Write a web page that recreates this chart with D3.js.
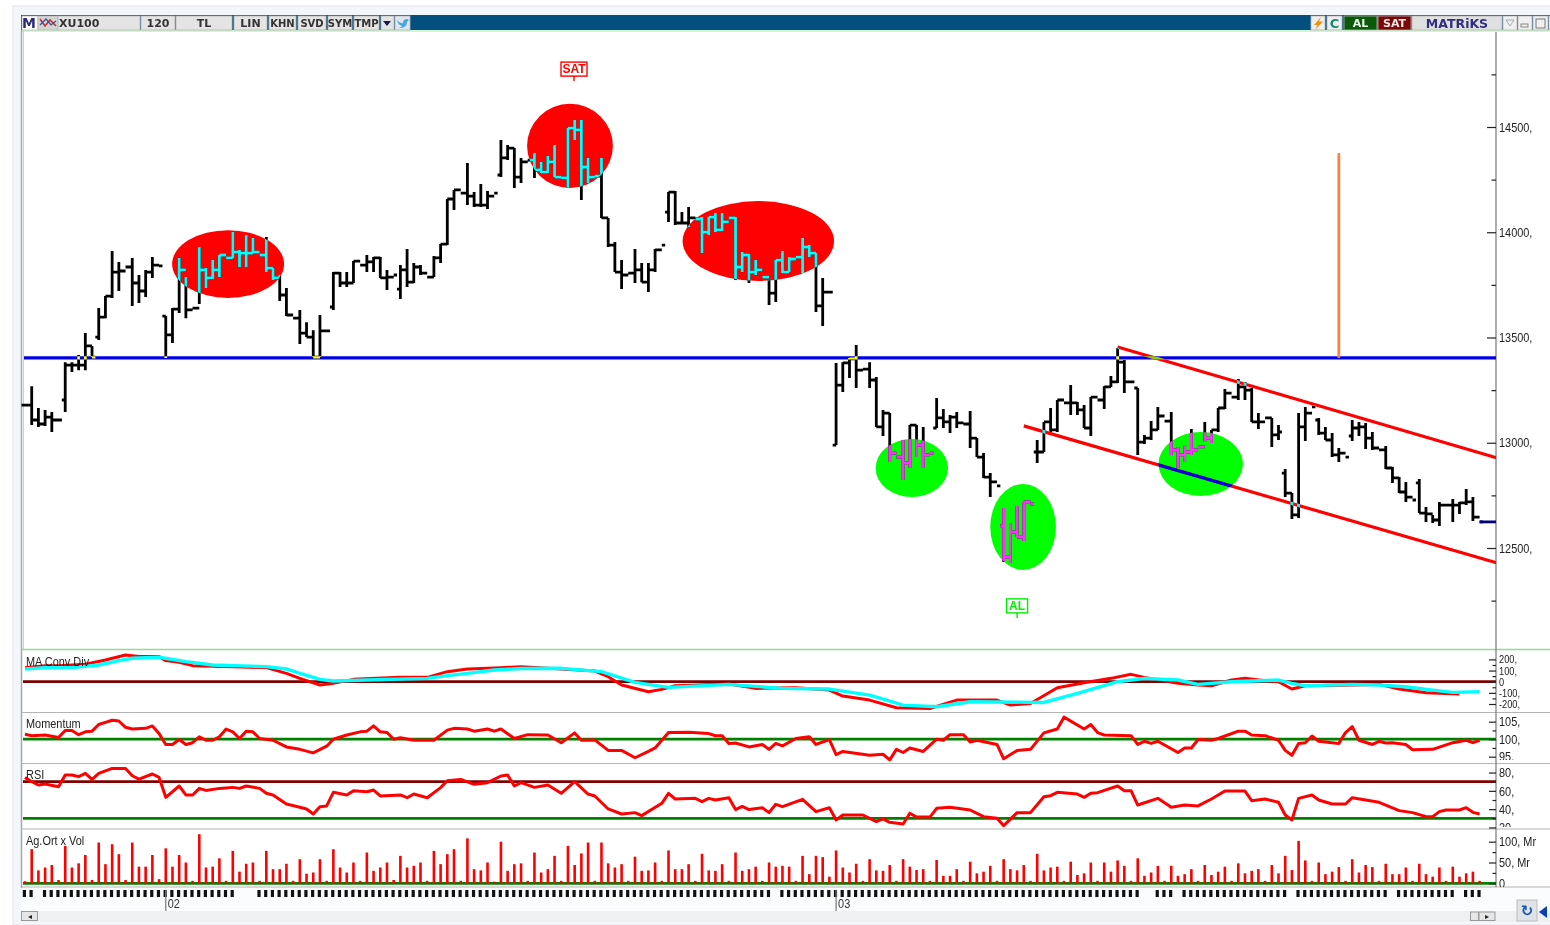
<!DOCTYPE html>
<html>
<head>
<meta charset="utf-8">
<script src="https://cdn.jsdelivr.net/npm/d3@7"></script>
<style>
    html, body { margin: 0; padding: 0; background: #fff; overflow: hidden; }
    svg { display: block; filter: blur(0.45px); }
    text { font-family: "Liberation Sans", sans-serif; }
    .tb text { font-family: "DejaVu Sans", sans-serif; font-weight: bold; font-size: 11px; }
</style>
</head>
<body>
<div id="chart"></div>
<script>
/* * * * * * * * * * * * * *
*     XU100 120 min bars    *
* * * * * * * * * * * * * */

const n = null;

// bar highs, one per time slot, null = single print
const highs = [n,13269,13165,13156,13146,n,13383,13383,13417,13521,13460,13640,13697,13911,13859,n,13878,13797,13821,13882,n,
13602,13640,13878,13787,n,13930,13830,13868,13892,n,14001,13916,13987,13973,n,13977,13830,13797,13735,n,13631,13573,13535,13607,n,
13811,13811,13811,13863,n,13892,13882,13882,13821,n,13844,13920,13854,13844,n,13887,13944,14158,14201,n,14329,14191,14229,14196,n,
14438,14414,14400,14353,n,14376,14334,14362,14414,n,14495,14533,14533,14353,n,14353,14068,13954,13868,n,13920,13854,13854,13920,n,
14191,14196,14096,14120,n,14072,14072,14091,14091,n,14072,13906,13897,13868,n,13773,13868,13911,13882,n,13973,13939,13901,13783,n,
13379,13383,13403,13464,n,13383,13312,13156,13141,n,13013,13084,13084,13075,n,13213,13160,13132,13146,n,13151,13022,12951,12856,n,
12690,12619,12700,12719,n,13013,13099,13165,13203,n,13274,13194,13179,13217,n,13269,13317,13450,13393,n,13260,13037,13103,13170,n,
13146,12980,12989,13065,n,13099,13061,13165,13255,n,13303,13289,13260,13141,n,13118,13084,12875,12761,13141,13170,n,
13118,13075,13046,12975,n,13108,13099,13094,13051,n,12984,12885,12837,12814,n,12828,12695,12657,12719,n,12733,12719,12780,12742,n];

// bar lows
const lows = [n,13084,13075,13079,13051,n,13146,13336,13345,13345,13407,13488,13592,13688,13721,n,13650,13664,13692,13783,n,
13403,13474,13616,13592,n,13659,13735,13778,13787,n,13878,13835,13835,13901,n,13811,13773,13673,13602,n,13469,13502,13407,13407,n,
13631,13740,13740,13759,n,13811,13811,13783,13726,n,13683,13740,13759,13797,n,13787,13854,13939,14106,n,14129,14120,14120,14110,n,
14262,14343,14210,14234,n,14258,14281,14281,14262,n,14210,14438,14153,14234,n,14068,13930,13811,13730,n,13759,13763,13716,13811,n,
14049,14034,14044,14025,n,13901,13987,14001,14006,n,13773,13811,13759,13797,n,13654,13669,13806,13811,n,13806,13882,13621,13555,n,
12989,13241,13308,13260,n,13260,13075,13032,12909,n,12823,12880,12932,12880,n,13070,13070,13046,13070,n,12975,12932,12833,12742,n,
12434,12429,12552,12533,n,12904,12956,13051,13051,n,13132,13132,13070,13032,n,13160,13265,13284,13236,n,12942,12994,13013,13061,n,
12942,12880,12909,12942,n,13003,12999,13051,13160,n,13203,13203,13099,13065,n,12980,13013,12742,12638,12643,13008,n,
13037,13013,12932,12909,n,13008,13032,12970,12966,n,12875,12809,12761,12719,n,12666,12624,12619,12605,n,12624,12662,12704,12628,n];

// bar closes
const closes = [13179,13108,13089,13122,13108,13108,13369,13369,13369,13460,13407,13597,13697,13811,13816,13835,13759,13721,13811,13844,13840,
13512,13635,13821,13631,13640,13821,13783,13821,13892,13878,13906,13901,13901,13906,13892,13830,13783,13702,13607,13592,13521,13502,13407,13531,13531,
13806,13759,13759,13863,13844,13859,13878,13783,13787,13797,13821,13763,13835,13806,13787,13878,13944,14158,14201,14186,14172,14129,14129,14172,14186,
14353,14400,14262,14334,14343,14296,14286,14334,14262,14258,14495,14486,14310,14262,14267,14068,13939,13811,13797,13806,13821,13763,13821,13916,13939,
14191,14044,14044,14068,14063,14001,14072,14011,14049,14068,13835,13892,13811,13821,13787,13711,13868,13811,13873,13882,13930,13901,13650,13716,13716,
13274,13379,13398,13345,13350,13298,13075,13141,12951,12932,12904,13084,12989,12942,12951,13118,13099,13122,13094,13089,13022,12932,12837,12814,12795,
12457,12576,12552,12719,12709,12956,13099,13061,13203,13189,13189,13156,13070,13217,13203,13265,13289,13383,13289,13289,13003,13022,13061,13127,13103,
12966,12942,12956,12966,12980,13022,13061,13165,13236,13217,13265,13250,13099,13099,13118,13037,13051,12761,12657,13075,13141,13170,
13046,13013,12942,12951,12932,13070,13075,13022,12975,12966,12880,12833,12766,12742,12728,12666,12662,12633,12704,12704,12704,12714,12719,12647,12624];

// opening print of the slots that gap away from the previous close
const gapOpens = {6: 13203, 11: 13502, 21: 13602, 46: 13645, 56: 13730, 71: 14272, 96: 14096, 121: 12989, 136: 13070, 146: 12605,
    151: 12956, 166: 13260, 188: 12856, 193: 13108, 198: 13032, 208: 12809};

// volume in Mr
const volume = [5,82,31,38,44,8,90,38,48,68,8,98,46,94,70,8,98,40,40,68,10,84,40,68,50,6,118,38,40,60,6,78,28,47,50,6,78,34,34,47,6,58,23,26,58,6,
82,38,26,50,6,74,30,38,50,8,66,38,42,50,6,78,46,70,82,6,108,34,31,50,4,100,30,46,48,6,74,26,34,66,6,90,44,72,98,6,98,48,38,46,6,
64,30,31,50,6,79,34,34,46,6,71,31,30,46,6,74,30,34,40,6,50,40,42,40,6,66,22,66,63,16,79,38,26,47,6,58,31,30,44,6,58,40,32,34,6,
56,18,18,34,6,52,24,28,42,6,58,34,31,44,6,71,31,38,40,6,52,20,24,50,6,50,28,55,42,6,60,18,26,42,6,42,18,22,34,6,44,20,28,40,6,
48,24,30,34,6,44,24,66,32,102,55,6,50,22,28,39,6,58,26,44,39,6,47,22,22,38,6,47,22,16,38,6,40,16,24,28,6];

// indicators as [slot, value] vertices of each polyline
const macdLine = [[0,126],[3,144],[5,144],[9,156],[12,195],[15,240],[17,225],[20,225],[21,189],[23,174],[25,144],[31,135],[36,126],[39,75],[41,30],[44,-30],[46,-15],[49,21],[56,39],[60,39],[63,90],[66,114],[71,126],[74,135],[80,114],[85,96],[87,45],[89,-30],[93,-90],[95,-69],[97,-36],[105,-21],[109,-60],[115,-54],[120,-75],[122,-129],[126,-165],[130,-234],[135,-240],[139,-165],[145,-165],[147,-210],[150,-195],[154,-54],[158,-9],[162,30],[165,66],[167,39],[172,-15],[175,-30],[177,-36],[180,15],[182,30],[185,9],[187,0],[189,-66],[191,-36],[198,-30],[202,-24],[205,-66],[209,-99],[214,-111]];
const macdSignal = [[0,114],[3,126],[7,126],[11,150],[14,189],[16,210],[20,219],[24,180],[28,150],[36,135],[39,114],[41,75],[44,21],[46,6],[51,15],[60,30],[63,54],[66,75],[70,105],[74,118],[80,120],[86,90],[91,-6],[96,-51],[105,-24],[113,-60],[120,-66],[126,-120],[131,-210],[136,-225],[141,-180],[152,-186],[157,-105],[163,0],[167,30],[172,15],[175,-24],[180,0],[187,15],[189,-15],[191,-36],[198,-24],[202,-30],[206,-45],[210,-75],[213,-96],[217,-90]];
const momentum = [[0,101.4],[1,101],[3,101.2],[5,100.5],[6,102.5],[7,102.5],[8,101.3],[9,102.1],[10,102.3],[11,104.2],[12,104.8],[13,105.4],[14,105.2],[15,103.4],[16,102.9],[18,103.1],[19,103.8],[20,101.6],[21,98.5],[22,98.5],[23,99.9],[24,98.5],[25,99],[26,100.7],[27,99.7],[28,99.7],[29,100.7],[30,102.9],[31,102.1],[32,100.2],[33,102.3],[34,102.1],[35,100.2],[37,99.7],[39,97.8],[41,97.1],[43,96.1],[45,98],[46,100],[48,101.2],[50,102.1],[51,102.3],[52,103.8],[53,102.1],[54,101.9],[55,100],[56,100.4],[58,99.7],[61,99.7],[63,102.6],[64,103.1],[66,102.9],[67,102.3],[69,102.9],[70,102.3],[71,102.9],[73,100.2],[75,101.3],[78,101.2],[80,99],[82,101.8],[83,99.7],[85,99.8],[87,96.8],[89,96.8],[91,94.7],[93,96.5],[94,97.5],[96,101.9],[99,102],[102,101.6],[103,101],[104,101],[105,98.8],[106,98.9],[108,97.8],[110,98.5],[111,97.1],[112,98.8],[113,98.1],[115,100.2],[117,100.7],[118,98.5],[120,99.9],[121,95.6],[122,96.5],[126,95.4],[128,95.7],[129,94.1],[130,97.1],[131,96.2],[132,97.5],[134,96.5],[136,100],[137,99.7],[138,101.3],[140,101.3],[141,99.2],[142,99.7],[145,98.5],[146,94.4],[148,96.8],[150,97.1],[152,101.8],[154,102.9],[155,106.3],[158,102.9],[159,104.2],[160,101.9],[161,101.2],[165,101],[166,98.5],[167,99.4],[168,98.8],[169,99.4],[172,96.2],[173,97.5],[174,97.5],[175,99.9],[177,99.7],[178,100.2],[181,102.3],[182,102.3],[183,101.2],[185,101],[187,99.7],[188,96.8],[189,95.4],[190,98.8],[191,99],[192,100.9],[193,99.4],[196,98.8],[197,101.9],[198,103.6],[199,99.7],[201,98.5],[202,99.4],[203,98.9],[204,99],[206,98.5],[207,97],[210,97.1],[213,99],[215,99.7],[216,99],[217,99.7]];
const rsi = [[0,74.7],[1,70],[2,66.4],[3,67.5],[5,64.5],[6,77.3],[7,77.3],[8,75.5],[9,79.1],[10,72.5],[11,79.1],[13,84.5],[15,84.5],[16,76.5],[17,72.9],[19,78.4],[20,74.7],[21,52.9],[23,65.3],[24,55.5],[25,55.5],[26,62.7],[27,60.5],[29,62.7],[31,63.8],[32,62.7],[33,65.3],[35,62.7],[36,57.3],[37,55.5],[39,45.6],[41,42],[42,40.2],[43,34.7],[44,42.7],[45,43.5],[46,58.4],[48,55.5],[49,60.2],[51,59.1],[52,60.9],[53,54.4],[56,55.5],[57,52.5],[58,56.5],[60,52.5],[62,63.5],[63,71.1],[65,72.5],[67,67.1],[69,68.9],[71,76.2],[72,77.3],[73,65.3],[74,68.9],[76,63.8],[78,66.4],[80,57.3],[82,70],[84,56.5],[85,54.4],[87,40.2],[89,34.7],[91,36.2],[92,32.9],[95,46.4],[96,57.3],[97,51.1],[100,51.8],[101,48.2],[102,51.8],[103,50],[105,52.5],[106,39.5],[107,43.1],[108,39.5],[110,41.6],[111,36.2],[112,45.3],[113,42.7],[116,50.7],[118,37.3],[120,41.6],[121,28.2],[122,33.6],[125,33.6],[127,26.4],[128,29.3],[129,25.6],[131,23.8],[132,35.6],[133,31.3],[135,31.3],[136,40.9],[138,42],[141,39.1],[143,31.8],[145,30],[146,22],[148,36.2],[150,36.2],[152,53.6],[153,54.7],[154,58.4],[157,56.5],[158,52.9],[159,57.3],[160,58],[163,65.3],[164,60.2],[165,60.2],[166,44.5],[169,51.8],[171,42],[173,44.5],[175,43.5],[177,51.1],[179,59.8],[182,59.8],[183,49.3],[185,51.1],[187,47.5],[188,33.6],[189,28.2],[190,51.8],[192,55.5],[193,50],[195,45.6],[197,45.6],[198,52.5],[200,50],[202,47.5],[205,38.4],[207,36.2],[209,31.8],[210,31.8],[211,37.3],[212,39.1],[214,39.1],[215,41.6],[216,36.5],[217,34.7]];

// tick labels
const priceLabels = [14500, 14000, 13500, 13000, 12500];
const priceMinor = [14750, 14250, 13750, 13250, 12750, 12250];
const macdLabels = [200, 100, 0, -100, -200];
const momentumLabels = [105, 100, 95];
const rsiLabels = [80, 60, 40, 20];
const volumeLabels = [100, 50, 0];

// time strip: slots with no tick, and the month marks
const stripGaps = [2, 32, 33, 34, 112, 167, 168, 172, 189, 204, 214];
const monthMarks = [{slot: 21, label: "02"}, {slot: 121, label: "03"}];

// drawn on the chart by hand
const supportLevel = 13403;
const channelUpper = [[163, 13455], [219.6, 12928]];
const channelLower = [[149, 13080], [219.6, 12429]];
const targetBar = {slot: 196, from: 13403, to: 14376};
const redZones = [
    {slot: 30.3, price: 13849, slotR: 8.35, priceR: 161},
    {slot: 81.3, price: 14410, slotR: 6.4, priceR: 200},
    {slot: 109.4, price: 13958, slotR: 11.3, priceR: 190}];
const greenZones = [
    {slot: 132.3, price: 12880, slotR: 5.4, priceR: 138},
    {slot: 148.9, price: 12600, slotR: 4.9, priceR: 204},
    {slot: 175.4, price: 12899, slotR: 6.3, priceR: 152}];
const signals = [
    {slot: 81.9, price: 14775, label: "SAT", color: "#ff0000"},
    {slot: 148, price: 12225, label: "AL", color: "#00ee00"}];

const width = 1550, height = 925, axisX = 1496, plotLeft = 23;

const svg = d3.select("#chart").append("svg").attr("width", width).attr("height", height);
const defs = svg.append("defs");

// scales
const x = d3.scaleLinear().domain([0, 217]).range([25, 1479.6]);
const yPrice = d3.scaleLinear().domain([12500, 14500]).range([548, 127]);
const yMacd = d3.scaleLinear().domain([-200, 200]).range([704, 659.4]);
const yMom = d3.scaleLinear().domain([95, 105]).range([756.7, 721.7]);
const yRsi = d3.scaleLinear().domain([30, 70]).range([818.3, 781.7]);
const yVol = d3.scaleLinear().domain([0, 100]).range([883.3, 841.7]);

drawFrame();
drawPricePanel();
drawIndicators();
drawAxes();
drawTimeStrip();
drawToolbar();

// no narrow font here, so squeeze the glyphs
function narrow(sel, k) {
    sel.each(function () {
        let t = d3.select(this);
        t.attr("textLength", this.getComputedTextLength() * k).attr("lengthAdjust", "spacingAndGlyphs");
    });
}

function drawFrame() {
    svg.append("rect").attr("x", 13).attr("y", 6).attr("width", width).attr("height", 919)
        .attr("fill", "#f3f6fa").attr("stroke", "#e2e5ea");
    svg.append("rect").attr("x", 21).attr("y", 30).attr("width", width).attr("height", 858).attr("fill", "#fff");
    svg.append("rect").attr("x", 21).attr("y", 888).attr("width", width).attr("height", 23).attr("fill", "#fbfcfd");
    svg.append("rect").attr("x", 21).attr("y", 911).attr("width", width).attr("height", 11).attr("fill", "#eef0f2");

    // panel borders
    svg.append("line").attr("x1", 21.5).attr("x2", 21.5).attr("y1", 30).attr("y2", 888).attr("stroke", "#a8a8a8").attr("stroke-width", 1.5);
    svg.append("line").attr("x1", 23.5).attr("x2", 23.5).attr("y1", 31).attr("y2", 649).attr("stroke", "#a0f0a0");
    svg.append("line").attr("x1", 22).attr("x2", width).attr("y1", 31).attr("y2", 31).attr("stroke", "#a0f0a0");
    svg.append("line").attr("x1", 22).attr("x2", width).attr("y1", 649.5).attr("y2", 649.5).attr("stroke", "#90dc90").attr("stroke-width", 1.5);
    [712.5, 763.5, 829, 887].forEach(function (y) {
        svg.append("line").attr("x1", 22).attr("x2", width).attr("y1", y).attr("y2", y).attr("stroke", "#b4b4b4").attr("stroke-width", 1.2);
    });
    svg.append("line").attr("x1", axisX).attr("x2", axisX).attr("y1", 32).attr("y2", 887).attr("stroke", "#777").attr("stroke-width", 1.2);
}

// one path for all the bars, it gets stroked again in the xor colours
function barsPath() {
    let p = d3.path();
    closes.forEach(function (c, i) {
        let open = gapOpens[i] !== undefined ? gapOpens[i] : (i > 0 ? closes[i - 1] : c);
        if (highs[i] !== null) {
            p.moveTo(x(i), yPrice(highs[i]));
            p.lineTo(x(i), yPrice(lows[i]));
        }
        p.moveTo(x(i) - 3.4, yPrice(open));
        p.lineTo(x(i), yPrice(open));
        p.moveTo(x(i), yPrice(c));
        p.lineTo(x(i) + 3.4, yPrice(c));
    });
    return p.toString();
}

function zoneEllipse(sel) {
    sel.attr("cx", d => x(d.slot))
        .attr("cy", d => yPrice(d.price))
        .attr("rx", d => x(d.slot + d.slotR) - x(d.slot))
        .attr("ry", d => yPrice(d.price - d.priceR) - yPrice(d.price));
}

function drawPricePanel() {
    const g = svg.append("g");
    const bars = barsPath();
    const bandY = yPrice(supportLevel);
    const lineGen = d3.line().x(d => x(d[0])).y(d => yPrice(d[1]));

    defs.append("clipPath").attr("id", "clipRed").selectAll("ellipse").data(redZones).join("ellipse").call(zoneEllipse);
    defs.append("clipPath").attr("id", "clipGreen").selectAll("ellipse").data(greenZones).join("ellipse").call(zoneEllipse);
    defs.append("clipPath").attr("id", "clipBand").append("rect")
        .attr("x", plotLeft).attr("y", bandY - 1.6).attr("width", axisX - plotLeft).attr("height", 3.2);
    defs.append("clipPath").attr("id", "clipPlot").append("rect")
        .attr("x", plotLeft).attr("y", 32).attr("width", axisX - plotLeft).attr("height", 617);

    const channelMask = defs.append("mask").attr("id", "maskChannel").attr("maskUnits", "userSpaceOnUse")
        .attr("x", 0).attr("y", 0).attr("width", width).attr("height", height);
    [channelUpper, channelLower].forEach(function (c) {
        channelMask.append("path").attr("d", lineGen(c)).attr("stroke", "#fff").attr("stroke-width", 3.2).attr("fill", "none");
    });

    g.selectAll(".red").data(redZones).join("ellipse").attr("class", "red").attr("fill", "#ff0000").call(zoneEllipse);
    g.selectAll(".green").data(greenZones).join("ellipse").attr("class", "green").attr("fill", "#00ff00").call(zoneEllipse);

    const stroke = (sel, color) => sel.attr("d", bars).attr("fill", "none").attr("stroke", color).attr("stroke-width", 2.8);
    g.append("path").call(stroke, "#000");
    g.append("path").attr("clip-path", "url(#clipRed)").call(stroke, "#00ffff");
    g.append("path").attr("clip-path", "url(#clipGreen)").call(stroke, "#ff30ff");

    // support, channel and target lines
    g.append("line").attr("x1", plotLeft + 1).attr("x2", axisX)
        .attr("y1", bandY).attr("y2", bandY)
        .attr("stroke", "#0000e6").attr("stroke-width", 3.2);
    [channelUpper, channelLower].forEach(function (c) {
        g.append("path").attr("d", lineGen(c)).attr("fill", "none").attr("stroke", "#ff0000").attr("stroke-width", 3.2).attr("clip-path", "url(#clipPlot)");
    });
    g.append("path").attr("d", lineGen(channelLower)).attr("fill", "none").attr("stroke", "#0000e6").attr("stroke-width", 3.2).attr("clip-path", "url(#clipGreen)");
    g.append("path").attr("d", lineGen(channelUpper)).attr("fill", "none").attr("stroke", "#88cc22").attr("stroke-width", 3.2).attr("clip-path", "url(#clipBand)");
    g.append("line").attr("x1", x(targetBar.slot)).attr("x2", x(targetBar.slot))
        .attr("y1", yPrice(targetBar.to)).attr("y2", yPrice(targetBar.from))
        .attr("stroke", "#ff8040").attr("stroke-width", 2.8);

    // bars crossing those lines flip colour
    g.append("path").attr("clip-path", "url(#clipBand)").call(stroke, "#ffff00");
    g.append("path").attr("mask", "url(#maskChannel)").call(stroke, "#00ffff");

    // last price
    g.append("line").attr("x1", x(217)).attr("x2", axisX)
        .attr("y1", yPrice(closes[217])).attr("y2", yPrice(closes[217]))
        .attr("stroke", "#000080").attr("stroke-width", 2.8);

    // al / sat flags
    const flags = g.selectAll(".flag").data(signals).join("g").attr("class", "flag")
        .attr("transform", d => "translate(" + x(d.slot) + "," + yPrice(d.price) + ")");
    flags.append("rect").attr("x", d => d.label === "SAT" ? -13 : -10.5).attr("y", -7)
        .attr("width", d => d.label === "SAT" ? 26 : 21).attr("height", 14)
        .attr("fill", "none").attr("stroke", d => d.color).attr("stroke-width", 1.4);
    flags.append("line").attr("x1", 0).attr("x2", 0).attr("y1", 7).attr("y2", 12).attr("stroke", d => d.color).attr("stroke-width", 1.4);
    flags.append("text").attr("y", 4).attr("text-anchor", "middle")
        .style("font-family", "'Liberation Sans', sans-serif").style("font-size", "12px").style("font-weight", "bold")
        .attr("fill", d => d.color).text(d => d.label);
}

function drawIndicators() {
    const g = svg.append("g");
    const refLine = function (y, color) {
        g.append("line").attr("x1", plotLeft).attr("x2", axisX).attr("y1", y).attr("y2", y)
            .attr("stroke", color).attr("stroke-width", 2.8);
    };
    const series = function (data, scale, color, w) {
        g.append("path").datum(data)
            .attr("d", d3.line().x(d => x(d[0])).y(d => scale(d[1])))
            .attr("fill", "none").attr("stroke", color).attr("stroke-width", w).attr("stroke-linejoin", "round");
    };

    refLine(yMacd(0), "#800000");
    series(macdLine, yMacd, "#ff0000", 3);
    series(macdSignal, yMacd, "#00ffff", 3.4);

    refLine(yMom(100), "#008000");
    series(momentum, yMom, "#ff0000", 3);

    refLine(yRsi(70), "#800000");
    refLine(yRsi(30), "#008000");
    series(rsi, yRsi, "#ff0000", 3);

    refLine(yVol(0), "#008000");
    g.selectAll(".vol").data(volume).join("line").attr("class", "vol")
        .attr("x1", (d, i) => x(i)).attr("x2", (d, i) => x(i))
        .attr("y1", yVol(0)).attr("y2", d => yVol(d))
        .attr("stroke", "#ff0000").attr("stroke-width", 2.6);

    // panel titles
    g.selectAll(".title").data([["MA Conv Div", 666], ["Momentum", 728], ["RSI", 779], ["Ag.Ort x Vol", 845]]).join("text")
        .attr("class", "title").attr("x", 26).attr("y", d => d[1]).attr("fill", "#222")
        .style("font-size", "13px").text(d => d[0]).call(narrow, 0.84);
}

function drawAxes() {
    // major ticks left of the axis, labels to its right
    const axisFor = function (scale, labels, minor, fmt, clipBottom, len, id, size) {
        const g = svg.append("g").attr("transform", "translate(" + axisX + ",0)");
        g.call(d3.axisLeft(scale).tickValues(labels).tickSize(len).tickFormat(""));
        g.append("g").call(d3.axisLeft(scale).tickValues(minor).tickSize(len / 2).tickFormat(""));
        g.selectAll(".domain").remove();
        g.selectAll("line").attr("stroke", "#222").attr("stroke-width", 1.2);

        defs.append("clipPath").attr("id", id).append("rect")
            .attr("x", 0).attr("y", 0).attr("width", 60).attr("height", clipBottom);
        const lab = svg.append("g").attr("transform", "translate(" + axisX + ",0)").attr("clip-path", "url(#" + id + ")")
            .call(d3.axisRight(scale).tickValues(labels).tickSize(0).tickPadding(3).tickFormat(fmt));
        lab.select(".domain").remove();
        lab.selectAll("text").attr("fill", "#222").style("font-size", size + "px")
            .style("font-family", "'Liberation Sans', sans-serif").call(narrow, 0.84);
    };
    const comma = d => d === 0 ? "0" : d + ",";

    axisFor(yPrice, priceLabels, priceMinor, comma, 648, 9, "axPrice", 13);
    axisFor(yMacd, macdLabels, [150, 50, -50, -150], comma, 711, 7, "axMacd", 11);
    axisFor(yMom, momentumLabels, [102.5, 97.5], comma, 760, 7, "axMom", 13);
    axisFor(yRsi, rsiLabels, [70, 50, 30], comma, 827, 7, "axRsi", 13);
    axisFor(yVol, volumeLabels, [75, 25], d => d === 0 ? "0" : d + ", Mr", 887, 7, "axVol", 13);
}

function drawTimeStrip() {
    const g = svg.append("g");
    const slots = d3.range(0, 218).filter(i => !stripGaps.includes(i));
    g.selectAll(".tk").data(slots).join("rect").attr("class", "tk")
        .attr("x", d => x(d) - 2.2).attr("y", 890).attr("width", 3.2).attr("height", 7).attr("fill", "#111");
    const m = g.selectAll(".mk").data(monthMarks).join("g").attr("class", "mk");
    m.append("line").attr("x1", d => x(d.slot)).attr("x2", d => x(d.slot))
        .attr("y1", 890).attr("y2", 911).attr("stroke", "#777").attr("stroke-width", 1.2);
    m.append("text").attr("x", d => x(d.slot) + 2).attr("y", 908).attr("fill", "#333")
        .style("font-size", "13px").text(d => d.label).call(narrow, 0.84);

    // scroll buttons
    const btn = function (bx, by, w, h, glyph) {
        g.append("rect").attr("x", bx).attr("y", by).attr("width", w).attr("height", h)
            .attr("fill", "#e6e6e6").attr("stroke", "#999");
        g.append("text").attr("x", bx + w / 2).attr("y", by + h - 2).attr("text-anchor", "middle")
            .attr("fill", "#222").style("font-size", "8px").text(glyph);
    };
    btn(21.5, 911.5, 16, 9, "◂");
    btn(1470.5, 912, 8, 8.5, "");
    btn(1479, 912, 16, 8.5, "▸");

    // refresh button and blue arrow
    g.append("rect").attr("x", 1517).attr("y", 900).attr("width", 20).attr("height", 21).attr("fill", "#dfe3e8").attr("stroke", "#bbb");
    g.append("text").attr("x", 1527).attr("y", 916).attr("text-anchor", "middle").attr("fill", "#1558b0")
        .style("font-size", "15px").style("font-weight", "bold").style("font-family", "'DejaVu Sans', sans-serif").text("↻");
    g.append("path").attr("d", "M1547,906 L1539,912 L1547,918 Z").attr("fill", "#0b3fb8");
}

function drawToolbar() {
    const g = svg.append("g").attr("class", "tb");
    g.append("rect").attr("x", 21).attr("y", 15).attr("width", width).attr("height", 15).attr("fill", "#03507f");

    const cell = function (x0, x1, fill, label, color, anchorLeft) {
        g.append("rect").attr("x", x0).attr("y", 16).attr("width", x1 - x0).attr("height", 14).attr("fill", fill)
            .attr("stroke", "#b5b5b5").attr("stroke-width", 0.8);
        if (label) {
            g.append("text").attr("x", anchorLeft ? x0 + 1 : (x0 + x1) / 2).attr("y", 27)
                .attr("text-anchor", anchorLeft ? "start" : "middle").attr("fill", color || "#333").text(label);
        }
    };

    cell(22, 38, "#fff");
    g.append("text").attr("x", 29).attr("y", 28).attr("text-anchor", "middle").attr("fill", "#2b2b78")
        .style("font-size", "14px").text("M");
    cell(38, 58, "#d4d4d4");
    g.append("path").attr("d", "M40,19 L45,26 L50,20 L56,26").attr("fill", "none").attr("stroke", "#c03030").attr("stroke-width", 1.6);
    g.append("path").attr("d", "M40,25 L46,19 L51,25 L56,21").attr("fill", "none").attr("stroke", "#405090").attr("stroke-width", 1.2);
    cell(58, 140, "#e4e4e4", "XU100", "#333", true);
    cell(141, 175, "#e4e4e4", "120");
    cell(176, 232, "#e4e4e4", "TL");
    cell(234, 267, "#e4e4e4", "LIN");
    cell(269, 296, "#e4e4e4", "KHN");
    cell(298, 326, "#e4e4e4", "SVD");
    cell(328, 352, "#e4e4e4", "SYM");
    cell(354, 379, "#e4e4e4", "TMP");
    g.selectAll("text").filter(function () { return ["KHN", "SVD", "SYM", "TMP"].includes(this.textContent); })
        .style("font-size", "10px");
    cell(381, 394, "#e4e4e4");
    g.append("path").attr("d", "M383,21 L391,21 L387,26 Z").attr("fill", "#1a1a50");
    cell(395, 410, "#dfe6ee");
    g.append("path").attr("d", "M397,20 Q400,24 403,23 Q403,19 407,19 L409,20 L407,22 Q407,28 399,28 Q402,27 402,26 Q398,25 397,20 Z").attr("fill", "#45a8e0");

    cell(1311, 1325, "#eeeeee");
    g.append("path").attr("d", "M1321,17 L1314,25 L1317.5,25 L1315,30 L1323,21.5 L1319,21.5 Z").attr("fill", "#f09010");
    cell(1327, 1342, "#eeeeee", "C", "#1a8a6a");
    g.selectAll("text").filter(function () { return this.textContent === "C"; }).style("font-size", "13px").attr("y", 28);
    cell(1344, 1377, "#0a5a0a", "AL", "#e8ffe8");
    cell(1378, 1411, "#7a0808", "SAT", "#ffe8e8");
    cell(1412, 1502, "#e0e0e0");
    g.append("text").attr("x", 1457).attr("y", 27.5).attr("text-anchor", "middle").attr("fill", "#2f2f80")
        .style("font-size", "12.5px").text("MATRiKS");
    cell(1503, 1517, "#f0f0f0");
    g.append("path").attr("d", "M1506,20 L1514,20 L1510,26 Z").attr("fill", "none").attr("stroke", "#aaa");
    cell(1518, 1532, "#f0f0f0");
    g.append("rect").attr("x", 1521).attr("y", 24).attr("width", 7).attr("height", 3).attr("fill", "none").attr("stroke", "#888");
    cell(1533, 1548, "#f0f0f0");
    g.append("rect").attr("x", 1536).attr("y", 19).attr("width", 9).attr("height", 9).attr("fill", "none").attr("stroke", "#777");
    cell(1549, 1551, "#fff");
}
</script>
</body>
</html>
